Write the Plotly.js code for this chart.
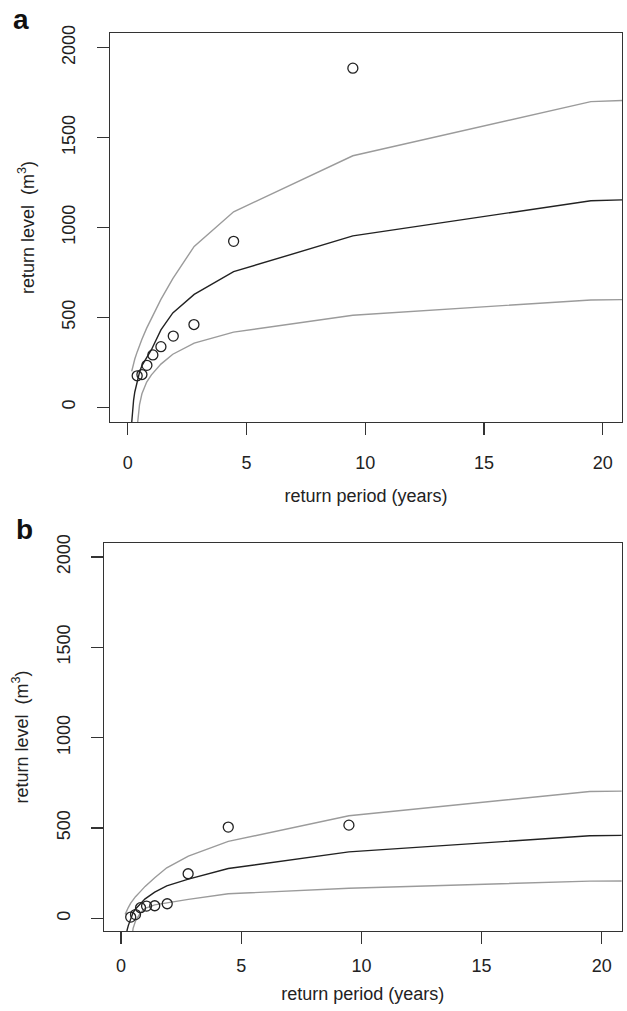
<!DOCTYPE html>
<html>
<head>
<meta charset="utf-8">
<script src="https://cdn.plot.ly/plotly-3.0.1.min.js"></script>
<style>
  html, body { margin: 0; padding: 0; background: #ffffff; }
  #chart { width: 627px; height: 1011px; }
</style>
</head>
<body>
<div id="chart"></div>
<script>
// ---- Data ----
// Observed return periods (years) of the empirical points (same for both panels)
const retPeriod = [0.40, 0.60, 0.81, 1.06, 1.40, 1.92, 2.79, 4.46, 9.48];
// Panel a: empirical return levels (m^3)
const obsA = [175, 182, 233, 291, 337, 396, 460, 923, 1886];
// Panel b: empirical return levels (m^3)
const obsB = [7, 21, 59, 68, 70, 81, 247, 505, 516];

// Return periods at which the fitted curve and its confidence limits are drawn
const curveX = [0.17, 0.2, 0.25, 0.3, 0.4, 0.5, 0.6, 0.8, 1.0, 1.4, 1.9, 2.8, 4.46, 9.48, 19.5, 22];
// Panel a: fitted return level and confidence bounds
const fitA   = [-85, -25, 40, 85, 150, 195, 232, 275, 320, 430, 525, 628, 754, 953, 1149, 1158];
const upperA = [200, 218, 245, 268, 308, 345, 378, 440, 495, 600, 715, 895, 1087, 1399, 1700, 1712];
const lowerA = [null, null, null, -420, -110, 15, 75, 140, 180, 240, 295, 357, 418, 512, 597, 600];
// Panel b: fitted return level and confidence bounds
const fitB   = [-190, -120, -65, -40, 0, 32, 52, 82, 108, 145, 180, 217, 276, 368, 457, 461];
const upperB = [22, 32, 47, 60, 84, 103, 120, 148, 177, 225, 280, 345, 426, 568, 702, 706];
const lowerB = [null, null, null, -380, -160, -55, -15, 30, 55, 75, 87, 105, 136, 167, 206, 208];

// Tick labels
const xTicks = [0, 5, 10, 15, 20];
const yTicks = [0, 500, 1000, 1500, 2000];

// ---- Styling ----
const FONT = '"Liberation Sans", Arial, Helvetica, sans-serif';
const INK = '#222222';
const GREY = '#9b9b9b';

function lineTrace(x, y, color, xa, ya, w) {
  return { x: x, y: y, xaxis: xa, yaxis: ya, type: 'scatter', mode: 'lines',
           line: { color: color, width: w }, hoverinfo: 'skip', showlegend: false,
           connectgaps: false };
}
function pointTrace(x, y, xa, ya) {
  return { x: x, y: y, xaxis: xa, yaxis: ya, type: 'scatter', mode: 'markers',
           marker: { symbol: 'circle-open', size: 10, color: INK, line: { color: INK, width: 1.3 } },
           showlegend: false, cliponaxis: false };
}

const traces = [
  lineTrace(curveX, upperA, GREY, 'x', 'y', 1.4),
  lineTrace(curveX, lowerA, GREY, 'x', 'y', 1.4),
  lineTrace(curveX, fitA, INK, 'x', 'y', 1.4),
  pointTrace(retPeriod, obsA, 'x', 'y'),
  lineTrace(curveX, upperB, GREY, 'x2', 'y2', 1.4),
  lineTrace(curveX, lowerB, GREY, 'x2', 'y2', 1.4),
  lineTrace(curveX, fitB, INK, 'x2', 'y2', 1.4),
  pointTrace(retPeriod, obsB, 'x2', 'y2')
];

function xAxis(domain, range, anchor, labelGap, titleGap) {
  return {
    domain: domain, range: range, anchor: anchor, automargin: false,
    showgrid: false, zeroline: false,
    showline: true, mirror: true, linecolor: '#333333', linewidth: 1.3,
    ticks: 'outside', ticklen: 12, tickwidth: 1.3, tickcolor: '#333333',
    tickmode: 'array', tickvals: xTicks, ticktext: xTicks.map(String),
    ticklabelstandoff: labelGap,
    tickfont: { family: FONT, size: 18, color: INK },
    title: { text: 'return period (years)', standoff: titleGap,
             font: { family: FONT, size: 18, color: INK } }
  };
}
function yAxis(domain, range, anchor) {
  return {
    domain: domain, range: range, anchor: anchor, automargin: false,
    showgrid: false, zeroline: false,
    showline: true, mirror: true, linecolor: '#333333', linewidth: 1.3,
    ticks: 'outside', ticklen: 12, tickwidth: 1.3, tickcolor: '#333333',
    tickmode: 'array', tickvals: yTicks, ticktext: yTicks.map(String),
    tickangle: -90, ticklabelstandoff: 14,
    tickfont: { family: FONT, size: 18, color: INK },
    title: { text: 'return level\u00a0\u00a0(m<sup>3</sup>)', standoff: 20,
             font: { family: FONT, size: 18, color: INK } }
  };
}

const layout = {
  width: 627, height: 1011,
  margin: { l: 0, r: 0, t: 0, b: 0, pad: 0 },
  paper_bgcolor: '#ffffff', plot_bgcolor: '#ffffff',
  showlegend: false,
  font: { family: FONT, color: INK },
  xaxis:  xAxis([0.1754, 0.9920], [-0.745, 20.81], 'y', 12, 17),
  yaxis:  yAxis([0.5826, 0.9674], [-82, 2082], 'x'),
  xaxis2: xAxis([0.1659, 0.9915], [-0.71, 20.83], 'y2', 6, 12),
  yaxis2: yAxis([0.0791, 0.4629], [-70, 2077], 'x2'),
  annotations: [
    { text: '<b>a</b>', xref: 'paper', yref: 'paper', x: 0.0335, y: 0.981,
      xanchor: 'center', yanchor: 'middle', showarrow: false,
      font: { family: FONT, size: 28, color: '#111111' } },
    { text: '<b>b</b>', xref: 'paper', yref: 'paper', x: 0.0390, y: 0.4758,
      xanchor: 'center', yanchor: 'middle', showarrow: false,
      font: { family: FONT, size: 28, color: '#111111' } }
  ]
};

Plotly.newPlot('chart', traces, layout, { staticPlot: true, displayModeBar: false });
</script>
</body>
</html>
